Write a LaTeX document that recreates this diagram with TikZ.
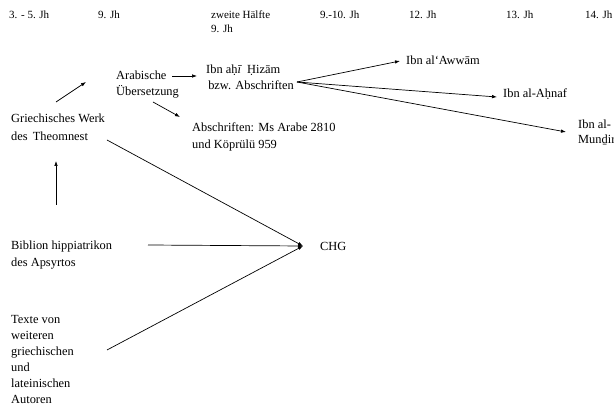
\documentclass[tikz,border=0pt]{standalone}
\usepackage{fontspec}
\setmainfont{Liberation Serif}
\usetikzlibrary{arrows.meta}
\tikzset{
  lbl/.style={anchor=base west, inner sep=0pt, align=left, font=\fontsize{12.4}{16.5}\selectfont},
  era/.style={anchor=base west, inner sep=0pt, align=left, font=\fontsize{11}{14}\selectfont},
  conn/.style={line width=0.7pt, -{Latex[length=5pt,width=3.6pt]}},
}
\begin{document}
\begin{tikzpicture}[x=1pt,y=-1pt]
\useasboundingbox[fill=white] (0,0) rectangle (614,406);
% era headings (multi-line nodes are placed by their last baseline)
\node[era] (e1) at (9,19) {3. - 5. Jh};
\node[era] (e2) at (98,19) {9. Jh};
\node[era] (e3) at (211,33) {zweite Hälfte\\9. Jh};
\node[era] (e4) at (320,19) {9.-10. Jh};
\node[era] (e5) at (409,19) {12. Jh};
\node[era] (e6) at (506,19) {13. Jh};
\node[era] (e7) at (585,19) {14. Jh};
% nodes
\node[lbl, font=\fontsize{12.4}{18}\selectfont] (greek) at (11,141) {Griechisches Werk\\des\, Theomnest};
\node[lbl, font=\fontsize{12.4}{16}\selectfont] (arab) at (116,96) {Arabische\\Übersetzung};
\node[lbl, font=\fontsize{12.4}{16}\selectfont] (ibn) at (206,90) {Ibn aḥ\textit{ī}\, Ḥizām\\\,bzw. Abschriften};
\node[lbl, font=\fontsize{12.4}{17}\selectfont] (absch) at (192,149) {Abschriften: Ms Arabe 2810\\und Köprülü 959};
\node[lbl] (awwam) at (406,65) {Ibn al‘Awwām};
\node[lbl] (ahnaf) at (503,98) {Ibn al-Aḥnaf};
\node[lbl, font=\fontsize{12.4}{15}\selectfont] (mundir) at (578,144) {Ibn al-\\Munḏir};
\node[lbl] (chg) at (320,251) {CHG};
\node[lbl, font=\fontsize{12.4}{17}\selectfont] (biblion) at (11,267) {Biblion hippiatrikon\\des Apsyrtos};
\node[lbl, font=\fontsize{12.4}{16.2}\selectfont] (texte) at (11,404) {Texte von\\weiteren\\griechischen\\und\\lateinischen\\Autoren};
% connectors
\draw[conn] ([xshift=45pt,yshift=39pt]greek.base west) -- ([xshift=-30pt,yshift=14pt]arab.base west);
\draw[conn] ([xshift=56pt,yshift=20pt]arab.base west) -- ([xshift=-9pt,yshift=14pt]ibn.base west);
\draw[conn] ([xshift=37pt,yshift=-6pt]arab.base west) -- ([xshift=-12pt,yshift=32pt]absch.base west);
\draw[conn] ([xshift=45pt,yshift=62pt]biblion.base west) -- ([xshift=45pt,yshift=-20pt]greek.base west);
\draw[conn] ([xshift=96pt,yshift=1pt]greek.base west) -- ([xshift=-17pt,yshift=5pt]chg.base west);
\draw[conn] ([xshift=137pt,yshift=22pt]biblion.base west) -- ([xshift=-17pt,yshift=5pt]chg.base west);
\draw[conn] ([xshift=96pt,yshift=54pt]texte.base west) -- ([xshift=-17pt,yshift=5pt]chg.base west);
\draw[conn] ([xshift=91pt,yshift=8pt]ibn.base west) -- ([xshift=-6pt,yshift=4pt]awwam.base west);
\draw[conn] ([xshift=91pt,yshift=8pt]ibn.base west) -- ([xshift=-6pt,yshift=1pt]ahnaf.base west);
\draw[conn] ([xshift=91pt,yshift=8pt]ibn.base west) -- ([xshift=-12pt,yshift=12pt]mundir.base west);
\end{tikzpicture}
\end{document}
